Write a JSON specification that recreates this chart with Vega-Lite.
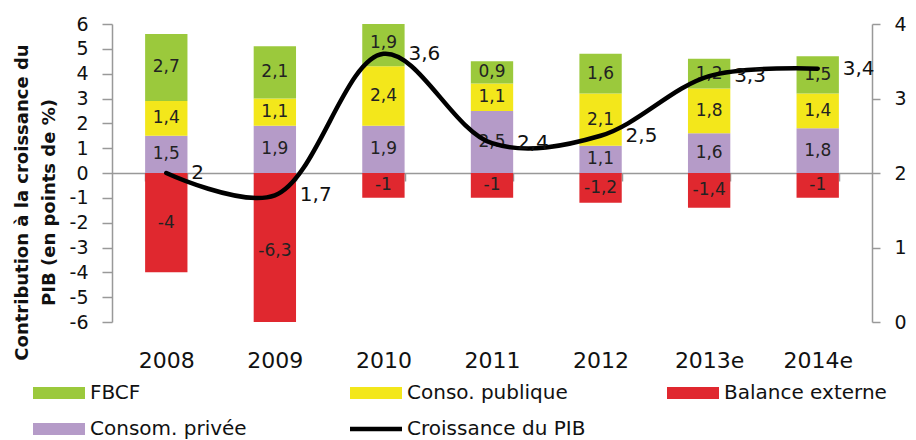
{
  "$schema": "https://vega.github.io/schema/vega-lite/v6.json",
  "width": 760,
  "height": 298,
  "autosize": "none",
  "padding": {"left": 112, "top": 24, "right": 44, "bottom": 118},
  "background": "white",
  "config": {"view": {"stroke": null}, "font": "DejaVu Sans"},
  "datasets": {
    "bars": [
      {"year": "2008", "comp": "Consom. privée", "v": 1.5, "ord": 1},
      {"year": "2008", "comp": "Conso. publique", "v": 1.4, "ord": 2},
      {"year": "2008", "comp": "FBCF", "v": 2.7, "ord": 3},
      {"year": "2008", "comp": "Balance externe", "v": -4, "ord": 4},
      {"year": "2009", "comp": "Consom. privée", "v": 1.9, "ord": 1},
      {"year": "2009", "comp": "Conso. publique", "v": 1.1, "ord": 2},
      {"year": "2009", "comp": "FBCF", "v": 2.1, "ord": 3},
      {"year": "2009", "comp": "Balance externe", "v": -6.3, "ord": 4},
      {"year": "2010", "comp": "Consom. privée", "v": 1.9, "ord": 1},
      {"year": "2010", "comp": "Conso. publique", "v": 2.4, "ord": 2},
      {"year": "2010", "comp": "FBCF", "v": 1.9, "ord": 3},
      {"year": "2010", "comp": "Balance externe", "v": -1, "ord": 4},
      {"year": "2011", "comp": "Consom. privée", "v": 2.5, "ord": 1},
      {"year": "2011", "comp": "Conso. publique", "v": 1.1, "ord": 2},
      {"year": "2011", "comp": "FBCF", "v": 0.9, "ord": 3},
      {"year": "2011", "comp": "Balance externe", "v": -1, "ord": 4},
      {"year": "2012", "comp": "Consom. privée", "v": 1.1, "ord": 1},
      {"year": "2012", "comp": "Conso. publique", "v": 2.1, "ord": 2},
      {"year": "2012", "comp": "FBCF", "v": 1.6, "ord": 3},
      {"year": "2012", "comp": "Balance externe", "v": -1.2, "ord": 4},
      {"year": "2013e", "comp": "Consom. privée", "v": 1.6, "ord": 1},
      {"year": "2013e", "comp": "Conso. publique", "v": 1.8, "ord": 2},
      {"year": "2013e", "comp": "FBCF", "v": 1.2, "ord": 3},
      {"year": "2013e", "comp": "Balance externe", "v": -1.4, "ord": 4},
      {"year": "2014e", "comp": "Consom. privée", "v": 1.8, "ord": 1},
      {"year": "2014e", "comp": "Conso. publique", "v": 1.4, "ord": 2},
      {"year": "2014e", "comp": "FBCF", "v": 1.5, "ord": 3},
      {"year": "2014e", "comp": "Balance externe", "v": -1, "ord": 4}
    ],
    "pib": [
      {"year": "2008", "g": 2.0},
      {"year": "2009", "g": 1.7},
      {"year": "2010", "g": 3.6},
      {"year": "2011", "g": 2.4},
      {"year": "2012", "g": 2.5},
      {"year": "2013e", "g": 3.3},
      {"year": "2014e", "g": 3.4}
    ]
  },
  "layer": [
    {
      "data": {"name": "bars"},
      "transform": [
        {"calculate": "datum.v < 0 ? 'neg' : 'pos'", "as": "sgn"},
        {"stack": "v", "groupby": ["year", "sgn"], "sort": [{"field": "ord", "order": "ascending"}], "as": ["v0", "v1"]},
        {"calculate": "(datum.v0 + datum.v1) / 2", "as": "mid"},
        {"calculate": "replace('' + datum.v, '.', ',')", "as": "lab"}
      ],
      "encoding": {
        "x": {
          "field": "year", "type": "nominal", "bandPosition": 0.5,
          "scale": {"domain": ["2008", "2009", "2010", "2011", "2012", "2013e", "2014e"], "paddingInner": 0.61, "paddingOuter": 0.305},
          "axis": {
            "title": null, "orient": "bottom", "offset": -149,
            "domainColor": "#999999", "domainWidth": 1.5,
            "tickColor": "#999999", "tickWidth": 1.5, "tickSize": 8, "tickBand": "extent",
            "labelAngle": 0, "labelPadding": 169, "labelFontSize": 22, "labelColor": "#111111",
            "labelOverlap": false, "labelBound": false
          }
        }
      },
      "layer": [
        {
          "mark": {"type": "bar", "clip": true},
          "encoding": {
            "y": {
              "field": "v0", "type": "quantitative",
              "scale": {"domain": [-6, 6], "nice": false},
              "axis": {
                "values": [-6, -5, -4, -3, -2, -1, 0, 1, 2, 3, 4, 5, 6],
                "labelExpr": "'' + datum.value", "labelOverlap": false,
                "grid": false, "domainColor": "#999999", "domainWidth": 1.5,
                "tickColor": "#999999", "tickWidth": 1.5, "tickSize": 10,
                "labelPadding": 14, "labelFontSize": 19, "labelColor": "#111111",
                "title": ["Contribution à la croissance du", "PIB (en points de %)"],
                "titleFontSize": 18, "titleFontWeight": "bold", "titleColor": "#111111",
                "titleAngle": -90, "titleAlign": "center", "titleBaseline": "top",
                "titleX": -99, "titleY": 178, "titleLineHeight": 27
              }
            },
            "y2": {"field": "v1"},
            "color": {
              "field": "comp", "type": "nominal",
              "scale": {
                "domain": ["FBCF", "Conso. publique", "Balance externe", "Consom. privée", "Croissance du PIB"],
                "range": ["#9BC93C", "#F3E71B", "#E0282F", "#B59BC8", "#000000"]
              },
              "legend": {
                "title": null, "orient": "none", "legendX": -79, "legendY": 343, "direction": "horizontal",
                "columns": 3, "gridAlign": "all", "columnPadding": 81, "rowPadding": -2,
                "symbolType": "M-1,-0.23H1V0.23H-1Z", "symbolSize": 2704,
                "labelFontSize": 20, "labelColor": "#111111", "labelOffset": 5, "labelLimit": 400,
                "encode": {
                  "symbols": {
                    "update": {
                      "shape": {"signal": "datum.value == 'Croissance du PIB' ? 'M-1,-0.09H1V0.09H-1Z' : 'M-1,-0.23H1V0.23H-1Z'"},
                      "fill": {"scale": "color", "field": "value"},
                      "strokeWidth": {"value": 0},
                      "opacity": {"value": 1}
                    }
                  }
                }
              }
            }
          }
        },
        {
          "mark": {"type": "text", "fontSize": 17, "color": "#222222", "baseline": "middle", "align": "center"},
          "encoding": {
            "y": {
              "field": "mid", "type": "quantitative",
              "axis": {
                "values": [-6, -5, -4, -3, -2, -1, 0, 1, 2, 3, 4, 5, 6],
                "labelExpr": "'' + datum.value", "labelOverlap": false,
                "grid": false, "domainColor": "#999999", "domainWidth": 1.5,
                "tickColor": "#999999", "tickWidth": 1.5, "tickSize": 10,
                "labelPadding": 14, "labelFontSize": 19, "labelColor": "#111111",
                "title": ["Contribution à la croissance du", "PIB (en points de %)"],
                "titleFontSize": 18, "titleFontWeight": "bold", "titleColor": "#111111",
                "titleAngle": -90, "titleAlign": "center", "titleBaseline": "top",
                "titleX": -99, "titleY": 178, "titleLineHeight": 27
              }
            },
            "text": {"field": "lab"}
          }
        }
      ]
    },
    {
      "data": {"name": "pib"},
      "encoding": {
        "x": {"field": "year", "type": "nominal", "bandPosition": 0.5},
        "y": {
          "field": "g", "type": "quantitative",
          "scale": {"domain": [0, 4], "nice": false},
          "axis": {
            "orient": "right", "values": [0, 1, 2, 3, 4], "title": null, "grid": false,
            "domainColor": "#999999", "domainWidth": 1.5,
            "tickColor": "#999999", "tickWidth": 1.5, "tickSize": 8,
            "labelPadding": 14, "labelFontSize": 19, "labelColor": "#111111"
          }
        }
      },
      "layer": [
        {
          "mark": {"type": "line", "interpolate": "catmull-rom", "strokeWidth": 4.5, "strokeCap": "round"},
          "encoding": {"color": {"datum": "Croissance du PIB", "type": "nominal"}}
        },
        {
          "transform": [{"calculate": "replace('' + datum.g, '.', ',')", "as": "lab"}],
          "mark": {"type": "text", "fontSize": 20, "color": "#111111", "align": "left", "baseline": "middle", "dx": 25},
          "encoding": {"text": {"field": "lab"}}
        }
      ]
    }
  ],
  "resolve": {"scale": {"y": "independent"}}
}
